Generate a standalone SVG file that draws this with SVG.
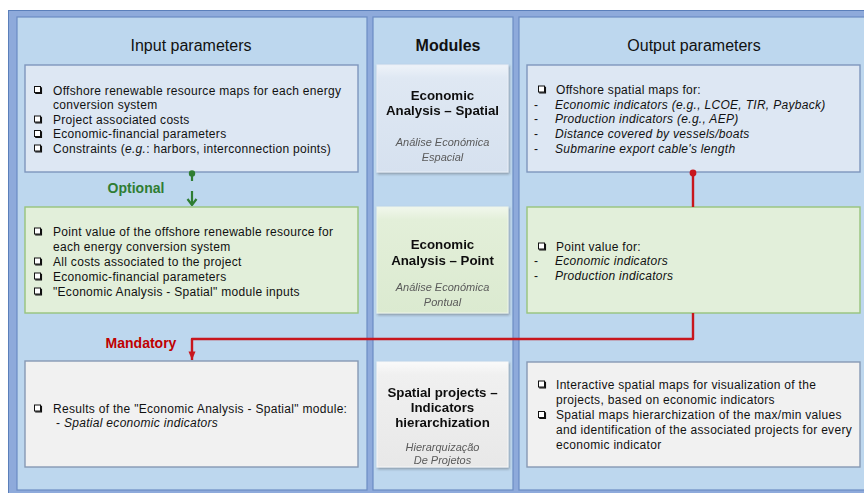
<svg xmlns="http://www.w3.org/2000/svg" xmlns:xlink="http://www.w3.org/1999/xlink" width="864" height="493" viewBox="0 0 864 493">
<style>
  .frame{fill:#8eaadb;stroke:#5b7fba;stroke-width:1}
  .panel{fill:#bdd7ee;stroke:#6b8cc3;stroke-width:1.2}
  .title{font-family:"Liberation Sans",Arial,sans-serif;font-size:16px;fill:#111;text-anchor:middle}
  .tb{font-weight:bold}
  .t{font-family:"Liberation Sans",Arial,sans-serif;font-size:12px;letter-spacing:0.3px;fill:#111}
  .i{font-style:italic}
  .mb{font-family:"Liberation Sans",Arial,sans-serif;font-size:13.3px;font-weight:bold;fill:#111;text-anchor:middle}
  .mi{font-family:"Liberation Sans",Arial,sans-serif;font-size:11px;font-style:italic;fill:#5a5a5a;text-anchor:middle}
  .bx-blue{fill:#dde7f3;stroke:#7e96bd;stroke-width:1.4}
  .bx-green{fill:#e2efda;stroke:#98c47c;stroke-width:1.4}
  .bx-gray{fill:#f1f1f1;stroke:#8799b4;stroke-width:1.4}
  .lbl{font-family:"Liberation Sans",Arial,sans-serif;font-size:14px;font-weight:bold;text-anchor:middle}
</style>
<defs>
  <symbol id="chk" viewBox="0 0 8 8" width="8" height="8" overflow="visible">
    <rect x="0.5" y="0.5" width="6" height="6" fill="#fff" stroke="#111" stroke-width="1"/>
    <path d="M1.2,7.4 H7.4 V1.2" fill="none" stroke="#111" stroke-width="1.3"/>
  </symbol>
  <linearGradient id="gBlue" x1="0" y1="0" x2="0" y2="1">
    <stop offset="0" stop-color="#eef3f9"/><stop offset="0.12" stop-color="#dfe8f3"/><stop offset="1" stop-color="#d6e1ef"/>
  </linearGradient>
  <linearGradient id="gGreen" x1="0" y1="0" x2="0" y2="1">
    <stop offset="0" stop-color="#f1f7ec"/><stop offset="0.12" stop-color="#e3efd9"/><stop offset="1" stop-color="#dbead0"/>
  </linearGradient>
  <linearGradient id="gGray" x1="0" y1="0" x2="0" y2="1">
    <stop offset="0" stop-color="#fafafa"/><stop offset="0.12" stop-color="#f0f0f0"/><stop offset="1" stop-color="#e8e8e8"/>
  </linearGradient>
  <filter id="sh" x="-10%" y="-10%" width="120%" height="120%">
    <feDropShadow dx="1" dy="1.5" stdDeviation="1" flood-color="#333" flood-opacity="0.4"/>
  </filter>
  <marker id="arG" viewBox="0 0 12 12" refX="11" refY="6" markerWidth="12" markerHeight="12" markerUnits="userSpaceOnUse" orient="auto">
    <path d="M5,1.5 L11,6 L5,10.5" fill="none" stroke="#2f7d33" stroke-width="2.2"/>
  </marker>
  <marker id="arR" viewBox="0 0 10 8" refX="9.5" refY="4" markerWidth="10" markerHeight="8" markerUnits="userSpaceOnUse" orient="auto">
    <path d="M1,0.5 L9.5,4 L1,7.5 Z" fill="#c8161d"/>
  </marker>
</defs>

<!-- background frame and panels -->
<rect class="frame" x="8.5" y="10.5" width="870" height="490"/>
<g id="panel-input">
  <rect class="panel" x="17" y="17" width="350" height="473"/>
  <text class="title" x="191" y="51">Input parameters</text>
</g>
<g id="panel-modules">
  <rect class="panel" x="373" y="17" width="140" height="473"/>
  <text class="title tb" x="448" y="51">Modules</text>
</g>
<g id="panel-output">
  <rect class="panel" x="519" y="17" width="360" height="473"/>
  <text class="title" x="694" y="51">Output parameters</text>
</g>

<!-- input boxes -->
<g id="in-spatial">
  <rect class="bx-blue" x="25" y="65" width="333" height="107"/>
  <use href="#chk" x="34" y="86"/>
  <text class="t" x="53" y="94.5">Offshore renewable resource maps for each energy</text>
  <text class="t" x="53" y="109">conversion system</text>
  <use href="#chk" x="34" y="115.5"/>
  <text class="t" x="53" y="123.5">Project associated costs</text>
  <use href="#chk" x="34" y="130"/>
  <text class="t" x="53" y="138">Economic-financial parameters</text>
  <use href="#chk" x="34" y="144.5"/>
  <text class="t" x="53" y="152.5">Constraints (<tspan class="i">e.g.</tspan>: harbors, interconnection points)</text>
</g>
<g id="in-point">
  <rect class="bx-green" x="25" y="207" width="333" height="106"/>
  <use href="#chk" x="34" y="227.5"/>
  <text class="t" x="53" y="235.5">Point value of the offshore renewable resource for</text>
  <text class="t" x="53" y="250.5">each energy conversion system</text>
  <use href="#chk" x="34" y="257.5"/>
  <text class="t" x="53" y="265.5">All costs associated to the project</text>
  <use href="#chk" x="34" y="272.5"/>
  <text class="t" x="53" y="280.5">Economic-financial parameters</text>
  <use href="#chk" x="34" y="287.5"/>
  <text class="t" x="53" y="295.5">"Economic Analysis - Spatial" module inputs</text>
</g>
<g id="in-hier">
  <rect class="bx-gray" x="25" y="361" width="333" height="106"/>
  <use href="#chk" x="34" y="404.5"/>
  <text class="t" x="53" y="412.5">Results of the "Economic Analysis - Spatial" module:</text>
  <text class="t" x="56" y="427">- <tspan class="i">Spatial economic indicators</tspan></text>
</g>

<!-- module boxes -->
<g id="mod-spatial" filter="url(#sh)">
  <rect x="377" y="65" width="131" height="107" fill="url(#gBlue)" stroke="#e9eef6" stroke-width="1"/>
  <text class="mb" x="442.5" y="99.5">Economic</text>
  <text class="mb" x="442.5" y="114.5">Analysis – Spatial</text>
  <text class="mi" x="442.5" y="146">Análise Económica</text>
  <text class="mi" x="442.5" y="161">Espacial</text>
</g>
<g id="mod-point" filter="url(#sh)">
  <rect x="377" y="207" width="131" height="106" fill="url(#gGreen)" stroke="#eef5e9" stroke-width="1"/>
  <text class="mb" x="442.5" y="248.5">Economic</text>
  <text class="mb" x="442.5" y="264.5">Analysis – Point</text>
  <text class="mi" x="442.5" y="291">Análise Económica</text>
  <text class="mi" x="442.5" y="305.5">Pontual</text>
</g>
<g id="mod-hier" filter="url(#sh)">
  <rect x="377" y="362" width="131" height="105" fill="url(#gGray)" stroke="#f7f7f7" stroke-width="1"/>
  <text class="mb" x="442.5" y="396.5">Spatial projects –</text>
  <text class="mb" x="442.5" y="411.5">Indicators</text>
  <text class="mb" x="442.5" y="426.5">hierarchization</text>
  <text class="mi" x="442.5" y="451">Hierarquização</text>
  <text class="mi" x="442.5" y="463.5">De Projetos</text>
</g>

<!-- output boxes -->
<g id="out-spatial">
  <rect class="bx-blue" x="527" y="65" width="333" height="107"/>
  <use href="#chk" x="538" y="85.5"/>
  <text class="t" x="556" y="94">Offshore spatial maps for:</text>
  <text class="t" x="534" y="108.7">-</text>
  <text class="t i" x="555" y="108.7">Economic indicators (e.g., LCOE, TIR, Payback)</text>
  <text class="t" x="534" y="123.3">-</text>
  <text class="t i" x="555" y="123.3">Production indicators (e.g., AEP)</text>
  <text class="t" x="534" y="138">-</text>
  <text class="t i" x="555" y="138">Distance covered by vessels/boats</text>
  <text class="t" x="534" y="152.7">-</text>
  <text class="t i" x="555" y="152.7">Submarine export cable's length</text>
</g>
<g id="out-point">
  <rect class="bx-green" x="527" y="207" width="333" height="106"/>
  <use href="#chk" x="538" y="242.5"/>
  <text class="t" x="556" y="250.5">Point value for:</text>
  <text class="t" x="534" y="265">-</text>
  <text class="t i" x="555" y="265">Economic indicators</text>
  <text class="t" x="534" y="280">-</text>
  <text class="t i" x="555" y="280">Production indicators</text>
</g>
<g id="out-hier">
  <rect class="bx-gray" x="527" y="362" width="333" height="105"/>
  <use href="#chk" x="538" y="380.5"/>
  <text class="t" x="556" y="388.5">Interactive spatial maps for visualization of the</text>
  <text class="t" x="556" y="404">projects, based on economic indicators</text>
  <use href="#chk" x="538" y="411"/>
  <text class="t" x="556" y="419">Spatial maps hierarchization of the max/min values</text>
  <text class="t" x="556" y="434">and identification of the associated projects for every</text>
  <text class="t" x="556" y="449">economic indicator</text>
</g>

<!-- connectors -->
<g id="connectors">
  <g id="optional-link">
    <circle cx="192" cy="173.5" r="3.2" fill="#2f7d33"/>
    <path d="M192,174 V181" stroke="#2f7d33" stroke-width="2.2" fill="none"/>
    <path d="M192,191 V205" stroke="#2f7d33" stroke-width="2.2" fill="none" marker-end="url(#arG)"/>
    <text class="lbl" x="136" y="193" fill="#2f7d33">Optional</text>
  </g>
  <g id="mandatory-link">
    <circle cx="693" cy="173" r="3.4" fill="#c8161d"/>
    <path d="M693,173 V207 M693,313 V339 H192 V360" stroke="#c8161d" stroke-width="2.4" fill="none" stroke-linejoin="round" marker-end="url(#arR)"/>
    <text class="lbl" x="141" y="348" fill="#c00000">Mandatory</text>
  </g>
</g>
</svg>
